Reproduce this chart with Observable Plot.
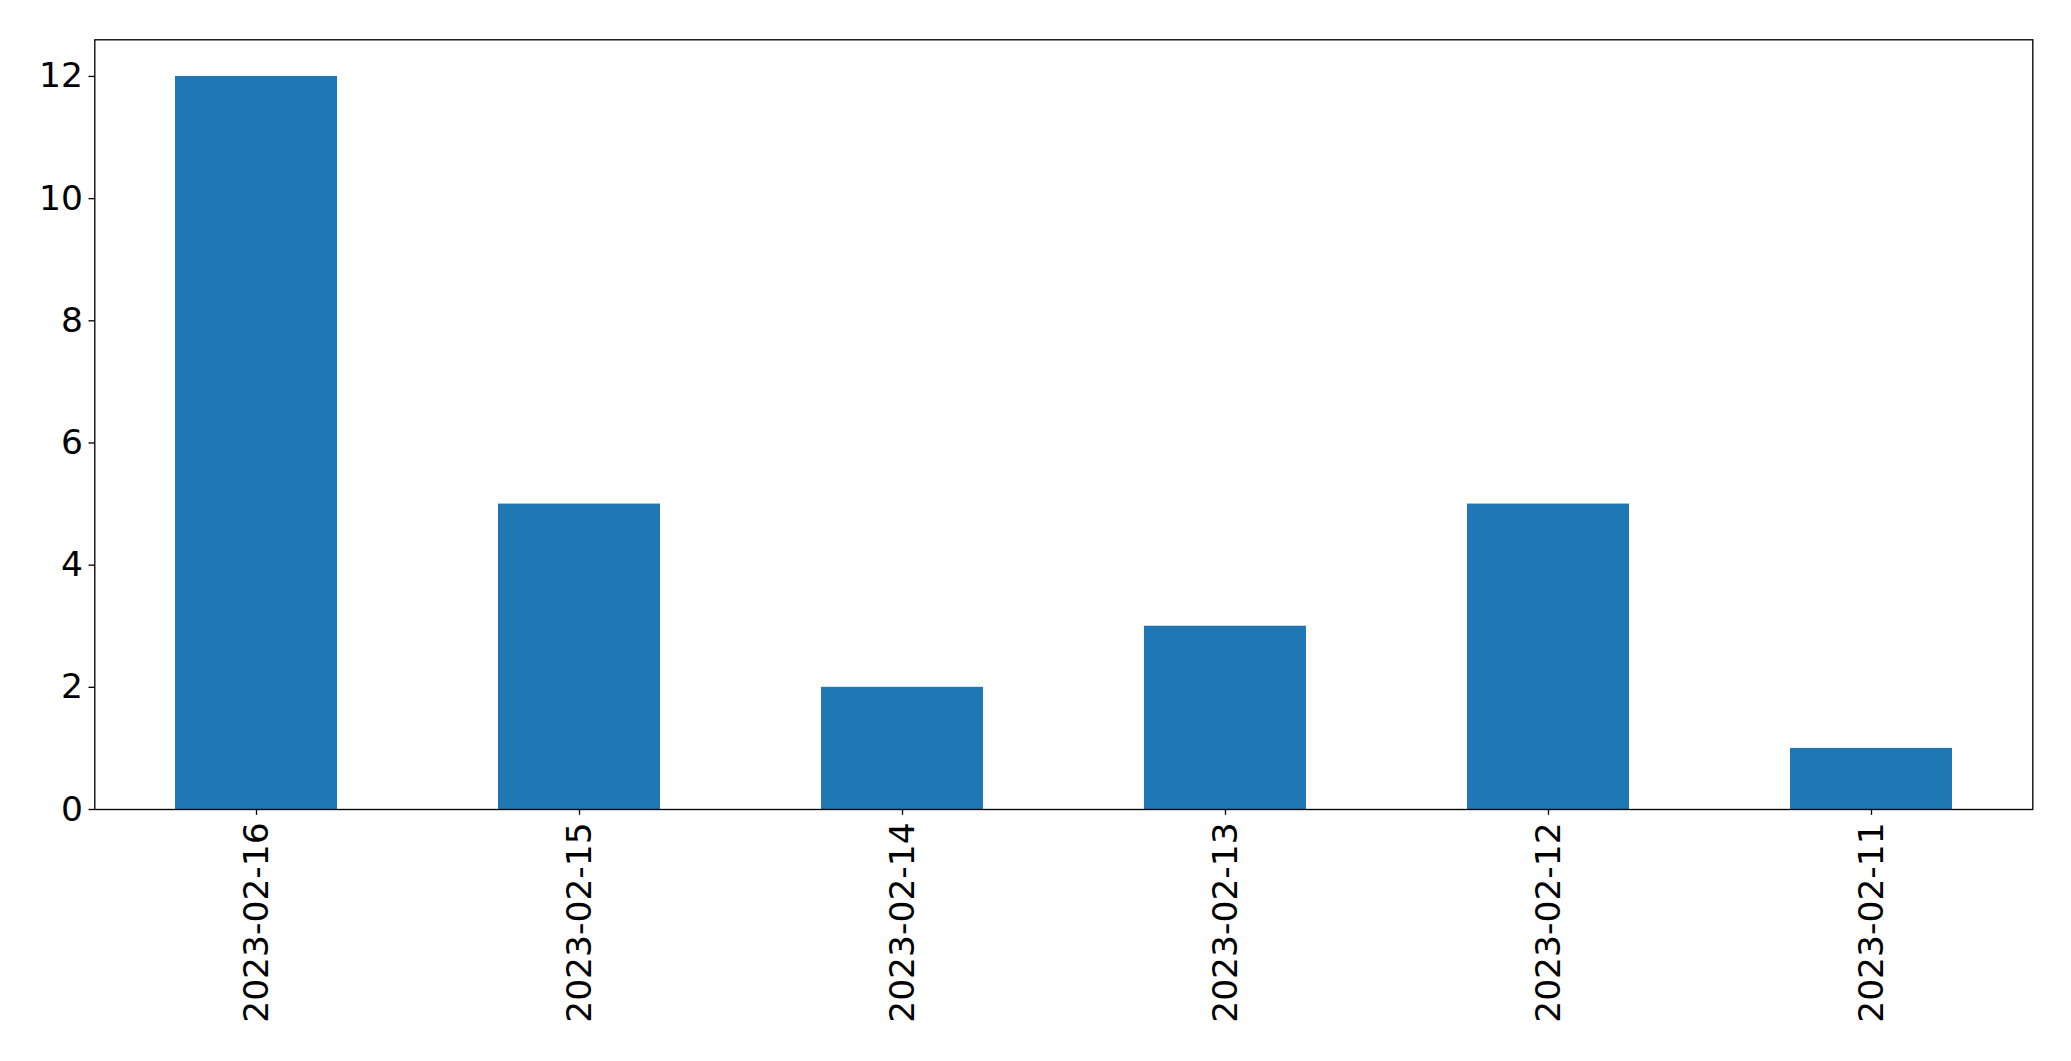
<!DOCTYPE html>
<html>
<head>
<meta charset="utf-8">
<script src="https://cdn.jsdelivr.net/npm/d3@7"></script>
<script src="https://cdn.jsdelivr.net/npm/@observablehq/plot@0.6"></script>
<style>
  html, body { margin: 0; padding: 0; background: #fff; }
  #chart svg { display: block; }
</style>
</head>
<body>
<div id="chart"></div>
<script>
const dates = ["2023-02-16", "2023-02-15", "2023-02-14", "2023-02-13", "2023-02-12", "2023-02-11"];
const counts = [12, 5, 2, 3, 5, 1];
const yTicks = [0, 2, 4, 6, 8, 10, 12];

const data = dates.map((d, i) => ({date: d, count: counts[i]}));

const chart = Plot.plot({
  width: 2071,
  height: 1061,
  marginLeft: 94.3,
  marginRight: 38.7,
  marginTop: 39.3,
  marginBottom: 252,
  style: {fontFamily: "'DejaVu Sans', sans-serif", fontSize: "34.5px", color: "black", background: "white"},
  x: {domain: dates, paddingInner: 0.5, paddingOuter: 0.25, align: 0.5},
  y: {domain: [0, 12.6]},
  marks: [
    Plot.barY(data, {x: "date", y: "count", fill: "#1f77b4"}),
    Plot.frame({stroke: "black", strokeWidth: 1.33}),
    Plot.axisY({ticks: yTicks, tickSize: 5.8, tickPadding: 6, strokeWidth: 1.33, fontSize: 34.5, label: null}),
    Plot.axisX({tickSize: 5.8, tickPadding: 7, tickRotate: -90, strokeWidth: 1.33, fontSize: 34.5, label: null})
  ]
});
document.getElementById("chart").appendChild(chart);
</script>
</body>
</html>
